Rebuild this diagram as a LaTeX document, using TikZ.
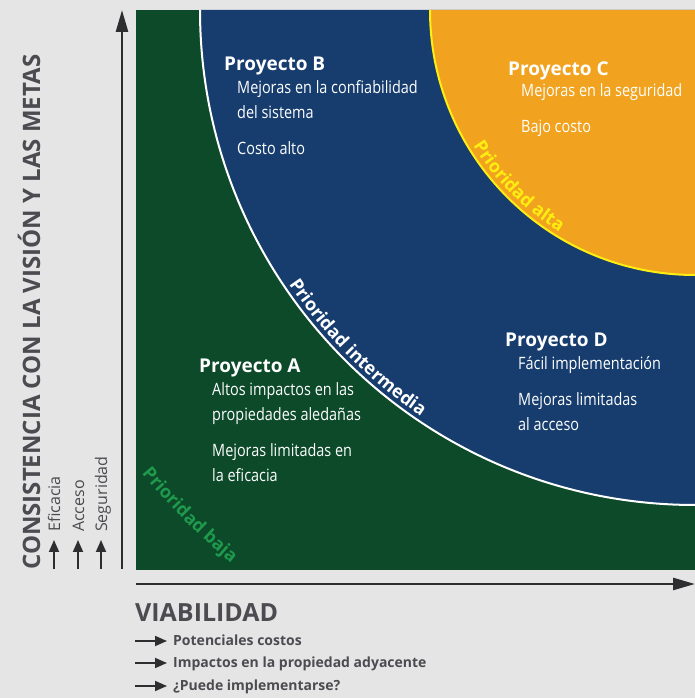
\documentclass[tikz,border=0pt]{standalone}
\usepackage{fontspec}
\setmainfont{Open Sans}
\newfontfamily\schmal[FakeStretch=0.85]{Open Sans}
\newfontfamily\fett{Open Sans Bold}
\usetikzlibrary{arrows.meta,decorations.text}

\definecolor{hinter}{HTML}{E6E5E6}
\definecolor{gruen}{HTML}{0C4A2A}
\definecolor{blau}{HTML}{173D6F}
\definecolor{orange}{HTML}{F1A31F}
\definecolor{gelb}{HTML}{FFEE10}
\definecolor{hellgruen}{HTML}{1F9A4C}
\definecolor{grau}{HTML}{4B4B50}
\definecolor{achse}{HTML}{2E2E30}

\begin{document}
\begin{tikzpicture}[x=1pt, y=1pt,
	titel/.style={anchor=base west, inner sep=0pt, text=white,
		font=\bfseries\fontsize{19}{19}\selectfont},
	rumpf/.style={anchor=base west, inner sep=0pt, text=white, align=left,
		font=\schmal\fontsize{17}{25}\selectfont},
	kleinpfeil/.style={draw=achse, line width=1.8pt,
		-{Triangle[length=12pt, width=10pt]}},
	grosspfeil/.style={draw=achse, line width=2.6pt,
		-{Triangle[length=22pt, width=12pt]}},
	legende/.style={inner sep=0pt, text=grau}]
	% Hintergrund
	\fill[hinter] (0,0) rectangle (695,698);
	\useasboundingbox (0,0) rectangle (695,698);
	\coordinate (mitte) at (695,688);

	% Flaechen
	\fill[gruen] (136,128) rectangle (695,688);
	\fill[blau] (mitte) -- ++(180:495) arc[start angle=180, end angle=270,
	radius=495] -- cycle;
	\draw[white, line width=2pt] (mitte) ++(180:495) arc[start angle=180,
	end angle=270, radius=495];
	\fill[orange] (mitte) -- ++(180:265) arc[start angle=180, end angle=270,
	radius=265] -- cycle;
	\draw[gelb, line width=2pt] (mitte) ++(180:265) arc[start angle=180,
	end angle=270, radius=265];

	% Prioritaeten entlang der Boegen
	\path[decorate, decoration={text along path, text align=center,
		text={|\color{gelb}\fett\fontsize{18}{18}\selectfont|Prioridad alta}}]
	(mitte) ++(195:260) arc[start angle=195, end angle=255, radius=260];
	\path[decorate, decoration={text along path, text align=center,
		text={|\color{white}\fett\fontsize{18}{18}\selectfont|Prioridad intermedia}}]
	(mitte) ++(200:490) arc[start angle=200, end angle=250, radius=490];
	\path[decorate, decoration={text along path, text align=center,
		text={|\color{hellgruen}\fett\fontsize{18}{18}\selectfont|Prioridad baja}}]
	(mitte) ++(210:722) arc[start angle=210, end angle=240, radius=722];

	% Projekte (Textbloecke an der Grundlinie der letzten Zeile)
	\node[titel] (projB) at (224,627) {Proyecto B};
	\node[rumpf] (textB) at (237,543) {Mejoras en la confiabilidad\\del
	sistema\\[11pt]Costo alto};
	\node[titel] (projC) at (508,622) {Proyecto C};
	\node[rumpf] (textC) at (521,565) {Mejoras en la seguridad\\[11pt]Bajo
	costo};
	\node[titel] (projD) at (505,351) {Proyecto D};
	\node[rumpf] (textD) at (518,267) {Fácil implementación\\[11pt]Mejoras
	limitadas\\al acceso};
	\node[titel] (projA) at (199,325) {Proyecto A};
	\node[rumpf] (textA) at (212,216) {Altos impactos en las\\propiedades
	aledañas\\[11pt]Mejoras limitadas en\\la eficacia};

	% Achsen
	\coordinate (ursprungY) at (122,129);
	\coordinate (spitzeY) at (122,688);
	\coordinate (ursprungX) at (136,114);
	\coordinate (spitzeX) at (695,114);
	\draw[grosspfeil] (ursprungY) -- (spitzeY);
	\draw[grosspfeil] (ursprungX) -- (spitzeX);

	% Achsenbeschriftung vertikal
	\node[legende, anchor=base west, rotate=90,
	font=\bfseries\fontsize{24}{24}\selectfont] (achseY) at (40,128)
	{CONSISTENCIA CON LA VISIÓN Y LAS METAS};
	\foreach \x/\name/\txt in {54/efi/Eficacia, 78/acc/Acceso,
		101/seg/Seguridad} {
		\coordinate (\name-a) at (\x,129);
		\coordinate (\name-b) at (\x,158);
		\draw[kleinpfeil] (\name-a) -- (\name-b);
		\node[legende, anchor=base west, rotate=90,
		font=\fontsize{16}{16}\selectfont] (\name) at (\x+6,166) {\txt};
	}

	% Achsenbeschriftung horizontal
	\node[legende, anchor=base west,
	font=\bfseries\fontsize{25}{25}\selectfont] (achseX) at (135,76)
	{VIABILIDAD};
	\foreach \y/\name/\txt in {57/kos/Potenciales costos,
		35/imp/Impactos en la propiedad adyacente,
		12/pue/¿Puede implementarse?} {
		\coordinate (\name-a) at (135,\y);
		\coordinate (\name-b) at (167,\y);
		\draw[kleinpfeil] (\name-a) -- (\name-b);
		\node[legende, anchor=base west,
		font=\bfseries\fontsize{14}{14}\selectfont] (\name) at (173,\y-5)
		{\txt};
	}
\end{tikzpicture}
\end{document}
